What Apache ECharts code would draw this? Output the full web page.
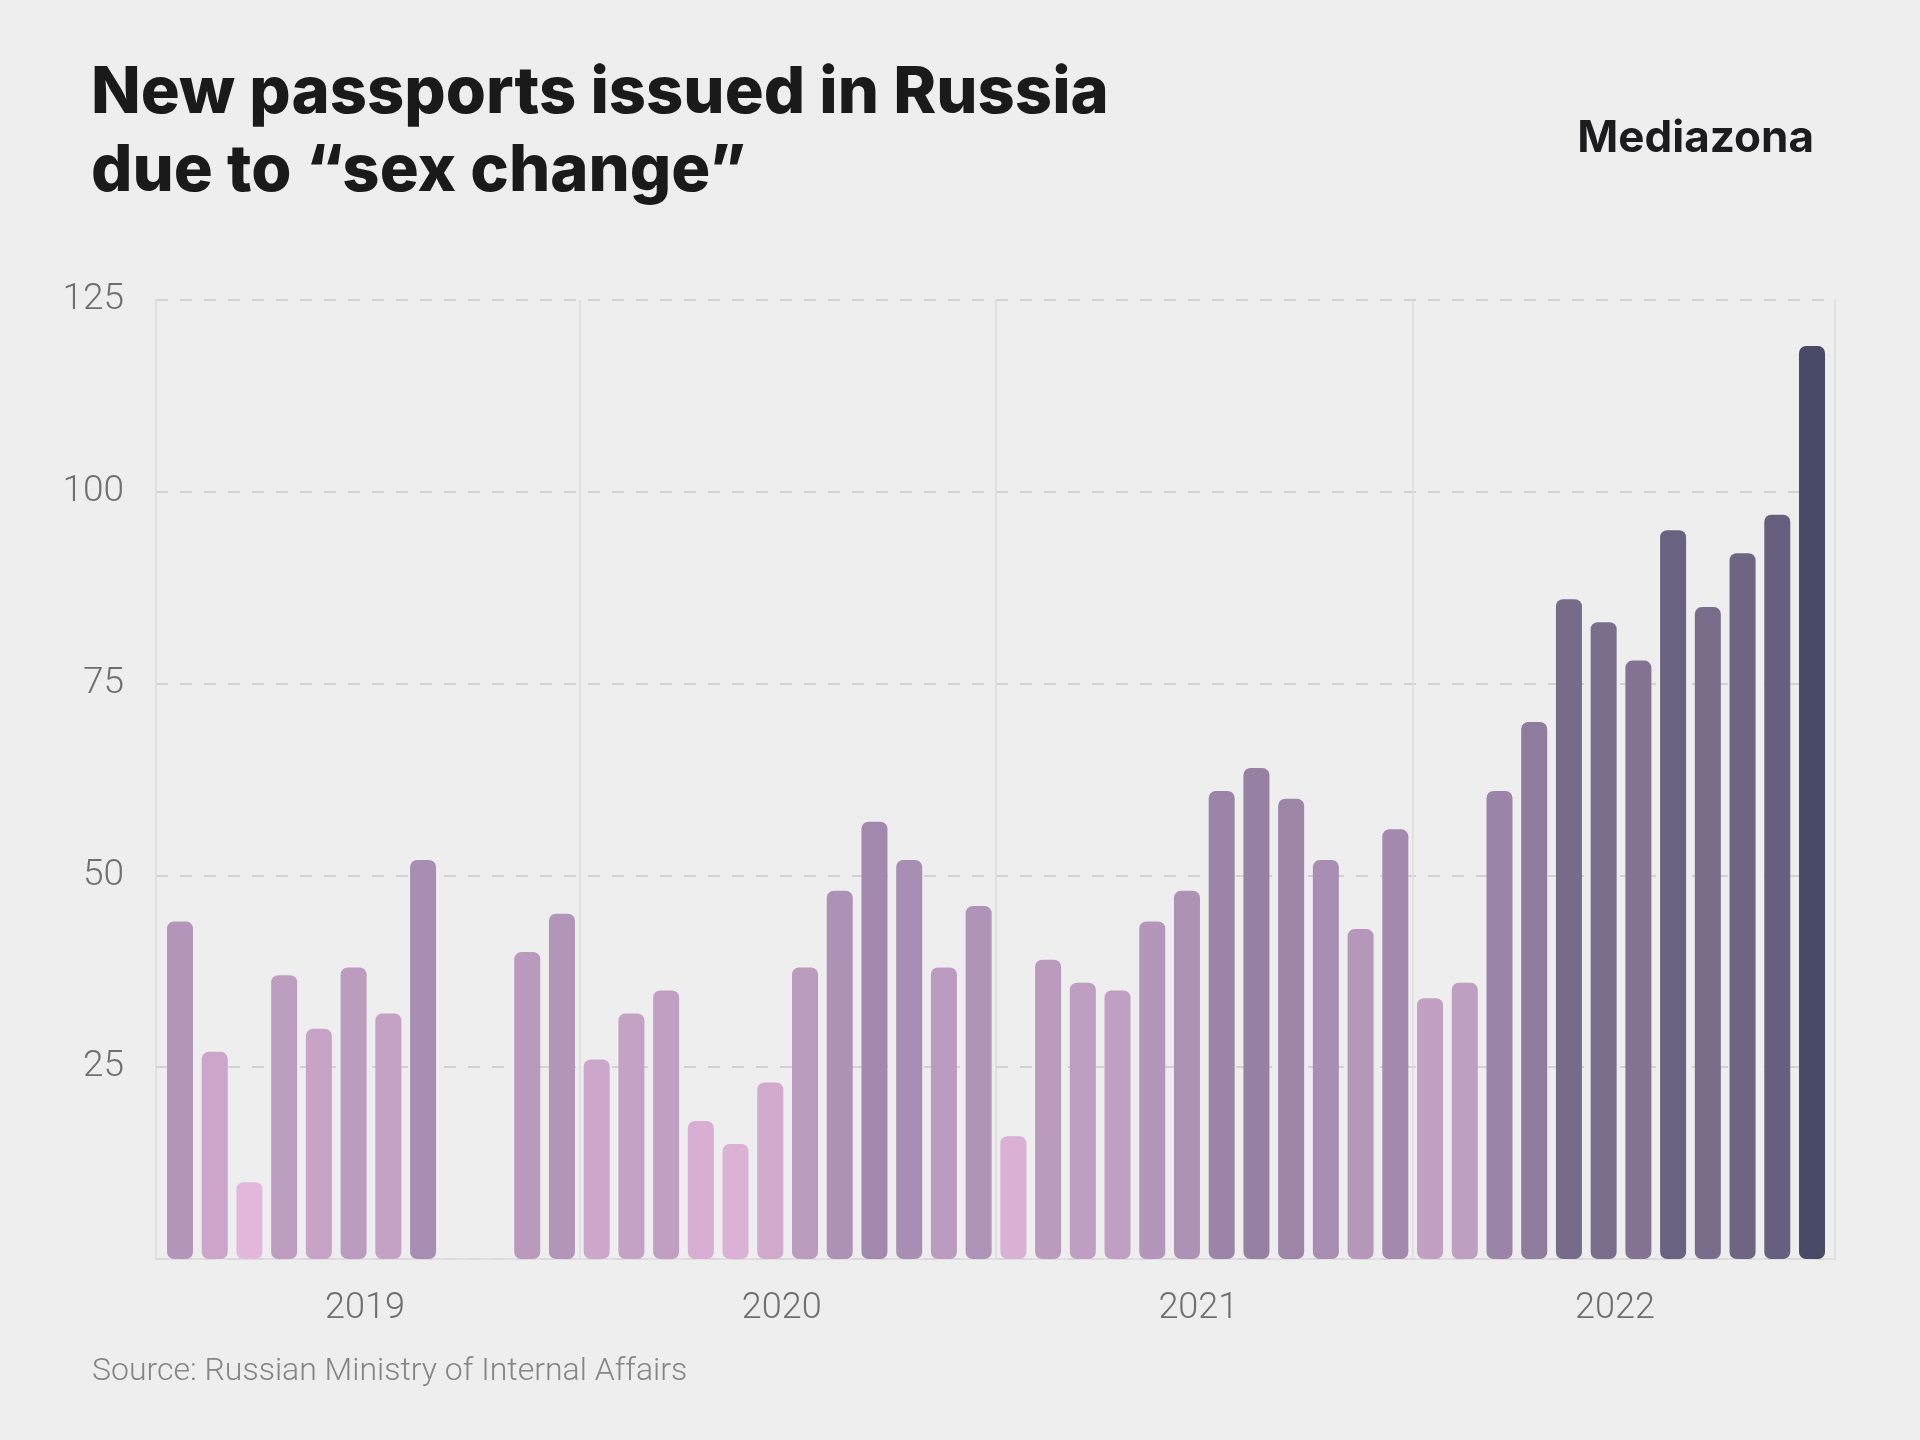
<!DOCTYPE html>
<html>
<head>
<meta charset="utf-8">
<script src="https://cdn.jsdelivr.net/npm/echarts@6/dist/echarts.min.js"></script>
<style>
  html, body { margin: 0; padding: 0; background: #eeeeee; }
  #chart { width: 1920px; height: 1440px; }
</style>
</head>
<body>
<div id="chart"></div>
<script>
// Months Jan 2019 – Dec 2022 (null = no data)
const years = ['2019', '2020', '2021', '2022'];
const months = ['Jan','Feb','Mar','Apr','May','Jun','Jul','Aug','Sep','Oct','Nov','Dec'];
const values2019 = [44, 27, 10, 37, 30, 38, 32, 52, null, null, 40, 45];
const values2020 = [26, 32, 35, 18, 15, 23, 38, 48, 57, 52, 38, 46];
const values2021 = [16, 39, 36, 35, 44, 48, 61, 64, 60, 52, 43, 56];
const values2022 = [34, 36, 61, 70, 86, 83, 78, 95, 85, 92, 97, 119];
const yTicks = [0, 25, 50, 75, 100, 125];

const allValues = [].concat(values2019, values2020, values2021, values2022);
const barData = [];
allValues.forEach((v, i) => { if (v !== null) barData.push([i, v]); });
const yearCenters = years.map((y, k) => k * months.length + (months.length - 1) / 2);
const yearBounds = years.slice(1).map((y, k) => (k + 1) * months.length - 0.5);

const chart = echarts.init(document.getElementById('chart'), null, { renderer: 'canvas' });

const gridLeft = 156, gridRight = 1835;
const firstCenter = 180, lastCenter = 1812;
const unit = (lastCenter - firstCenter) / (allValues.length - 1);
const xMin = (gridLeft - firstCenter) / unit;
const xMax = (allValues.length - 1) + (gridRight - lastCenter) / unit;

const option = {
  backgroundColor: '#eeeeee',
  animation: false,
  title: [
    {
      text: 'New passports issued in Russia\ndue to \u201csex change\u201d',
      left: 86, top: 49,
      textStyle: { fontFamily: 'Inter, Roboto, sans-serif', fontSize: 65, fontWeight: 800, color: '#1a1a1a', lineHeight: 78 }
    },
    {
      text: 'Mediazona',
      right: 101, top: 112,
      textStyle: { fontFamily: 'Inter, Roboto, sans-serif', fontSize: 44, fontWeight: 'bold', color: '#1c1c1e' }
    },
    {
      text: 'Source: Russian Ministry of Internal Affairs',
      left: 87, top: 1351,
      textStyle: { fontFamily: 'Roboto, "Noto Sans", sans-serif', fontSize: 32, fontWeight: 300, color: '#858585' }
    }
  ],
  grid: { left: gridLeft, right: 1920 - gridRight, top: 300, bottom: 1440 - 1259, containLabel: false },
  visualMap: {
    show: false, type: 'continuous', dimension: 1, seriesIndex: 0,
    min: 10, max: 119,
    inRange: { color: ['#e3b6db', '#c4a2c5', '#a68cb0', '#877595', '#66607e', '#484a67'] }
  },
  xAxis: {
    type: 'value', min: xMin, max: xMax,
    axisLine: { show: true, lineStyle: { color: '#dcdcdc', width: 1.5 } },
    axisTick: { show: false },
    splitLine: { show: false },
    axisLabel: {
      customValues: yearCenters,
      formatter: v => years[Math.round((v - (months.length - 1) / 2) / months.length)] || '',
      fontFamily: 'Roboto, "Noto Sans", sans-serif', fontSize: 36, fontWeight: 300, color: '#6f6f6f', margin: 32,
      padding: [0, 12, 0, 0]
    }
  },
  yAxis: [
    {
      type: 'value', min: yTicks[0], max: yTicks[yTicks.length - 1], interval: 25,
      axisLine: { show: true, onZero: false, lineStyle: { color: '#dcdcdc', width: 1.5 } },
      axisTick: { show: false },
      splitLine: { show: true, lineStyle: { color: '#d2d2d2', width: 2, type: [12, 12] } },
      axisLabel: {
        formatter: v => v === 0 ? '' : String(v),
        fontFamily: 'Roboto, "Noto Sans", sans-serif', fontSize: 37, fontWeight: 300, color: '#6f6f6f', margin: 32
      }
    },
    {
      type: 'value', min: yTicks[0], max: yTicks[yTicks.length - 1], interval: 25, position: 'right',
      axisLine: { show: true, onZero: false, lineStyle: { color: '#dcdcdc', width: 1.5 } },
      axisTick: { show: false }, axisLabel: { show: false }, splitLine: { show: false }
    }
  ],
  series: [
    {
      type: 'bar',
      data: barData,
      barWidth: 26,
      itemStyle: { borderRadius: 7 },
      markLine: {
        silent: true, symbol: 'none', label: { show: false },
        lineStyle: { color: '#dcdcdc', width: 1.5, type: 'solid' },
        data: yearBounds.map(x => ({ xAxis: x }))
      }
    }
  ]
};
chart.setOption(option);
</script>
</body>
</html>
